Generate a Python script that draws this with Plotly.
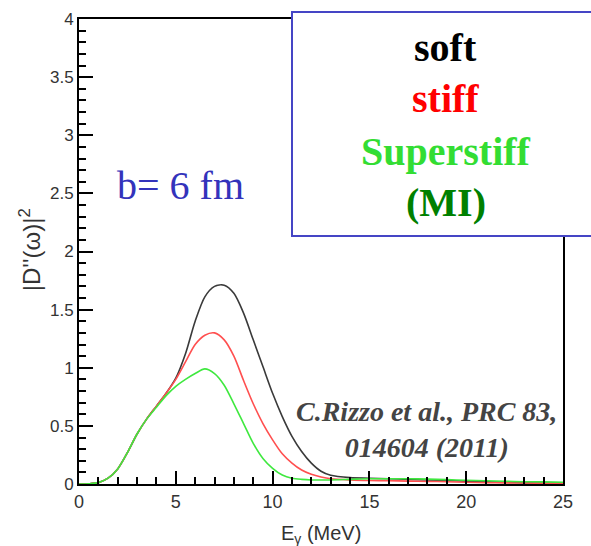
import plotly.graph_objects as go

# ---- data ----
energy = [0, 0.5, 1, 1.5, 2, 2.5, 3, 3.5, 4, 4.5, 5, 5.5, 6, 6.5, 7, 7.5, 8, 8.5,
          9, 9.5, 10, 10.5, 11, 11.5, 12, 12.5, 13,
          14, 15, 16, 17, 18, 19, 20, 21, 22, 23, 24, 25]

soft = [0, 0.002, 0.012, 0.05, 0.13, 0.27, 0.43, 0.56, 0.67, 0.78, 0.91, 1.12, 1.40, 1.61,
        1.70, 1.71, 1.64, 1.47, 1.24, 1.01, 0.78, 0.58, 0.41, 0.28, 0.18, 0.11, 0.075,
        0.055, 0.05, 0.045, 0.04, 0.035, 0.03, 0.025, 0.02, 0.015, 0.01, 0.008, 0.005]

stiff = [0, 0.002, 0.012, 0.05, 0.13, 0.27, 0.43, 0.56, 0.67, 0.78, 0.90, 1.05, 1.20, 1.28,
         1.30, 1.24, 1.10, 0.89, 0.69, 0.52, 0.38, 0.26, 0.18, 0.12, 0.083, 0.06, 0.045,
         0.035, 0.03, 0.028, 0.025, 0.022, 0.02, 0.015, 0.012, 0.01, 0.008, 0.006, 0.005]

superstiff = [0, 0.002, 0.012, 0.05, 0.13, 0.27, 0.43, 0.56, 0.66, 0.76, 0.84, 0.90, 0.95, 0.99,
              0.95, 0.85, 0.69, 0.52, 0.35, 0.22, 0.135, 0.077, 0.05, 0.04, 0.035, 0.035, 0.035,
              0.04, 0.045, 0.045, 0.045, 0.042, 0.038, 0.032, 0.028, 0.024, 0.02, 0.018, 0.015]

x_major_step = 5
y_major_step = 0.5

series = [
    ("soft", soft, "#3a3a3a"),
    ("stiff", stiff, "#ff4f4f"),
    ("Superstiff", superstiff, "#3fe83f"),
]

fig = go.Figure()
for name, vals, col in series:
    fig.add_trace(go.Scatter(x=energy, y=vals, mode="lines", name=name,
                             line=dict(color=col, width=1.6, shape="spline", smoothing=0.8)))

fig.update_xaxes(range=[0, 25], dtick=x_major_step, tick0=0,
                 showline=True, linewidth=2, linecolor="black", mirror=True,
                 ticks="inside", ticklen=13, tickwidth=2, tickcolor="black",
                 showgrid=False, zeroline=False,
                 minor=dict(ticks="inside", ticklen=7, dtick=1, tickwidth=2,
                            tickcolor="black"),
                 tickfont=dict(family="Liberation Sans", size=18, color="#333"))
fig.update_yaxes(range=[0, 4], dtick=y_major_step, tick0=0,
                 showline=True, linewidth=2, linecolor="black", mirror=True,
                 ticks="inside", ticklen=14, tickwidth=2, tickcolor="black",
                 showgrid=False, zeroline=False,
                 minor=dict(ticks="inside", ticklen=7, dtick=0.1, tickwidth=2,
                            tickcolor="black"),
                 tickfont=dict(family="Liberation Sans", size=17, color="#333"))

# framed legend box (drawn as an annotation box, extends past the right edge)
fig.add_annotation(x=0.438, y=1.017, xref="paper", yref="paper", text="&nbsp;",
                   showarrow=False, xanchor="left", yanchor="top",
                   width=330, height=222, bgcolor="white",
                   bordercolor="#4545c5", borderwidth=2, borderpad=0,
                   font=dict(size=10))

serif = "Liberation Serif"
box_lines = [
    ("<b>soft</b>", "#000000", 0.938),
    ("<b>stiff</b>", "#ff0000", 0.828),
    ("<b>Superstiff</b>", "#33dd33", 0.716),
    ("<b>(MI)</b>", "#008000", 0.606),
]
for txt, col, yy in box_lines:
    fig.add_annotation(x=0.758, y=yy, xref="paper", yref="paper", text=txt,
                       showarrow=False, xanchor="center", yanchor="middle",
                       font=dict(family=serif, size=40, color=col))

fig.add_annotation(x=0.209, y=0.641, xref="paper", yref="paper", text="b= 6 fm",
                   showarrow=False, xanchor="center", yanchor="middle",
                   font=dict(family=serif, size=40, color="#3333bb"))

fig.add_annotation(x=0.719, y=0.118, xref="paper", yref="paper",
                   text="<b><i>C.Rizzo et al., PRC 83,<br>014604 (2011)</i></b>",
                   showarrow=False, xanchor="center", yanchor="middle", align="center",
                   font=dict(family=serif, size=28, color="#444444"))

fig.add_annotation(x=0.5, y=-0.078, xref="paper", yref="paper",
                   text="E<sub>γ</sub> (MeV)", showarrow=False,
                   xanchor="center", yanchor="top",
                   font=dict(family="Liberation Sans", size=20, color="#333"))

fig.add_annotation(x=-0.101, y=0.503, xref="paper", yref="paper",
                   text="|D''(ω)|<sup>2</sup>", showarrow=False, textangle=-90,
                   xanchor="center", yanchor="middle",
                   font=dict(family="Liberation Sans", size=24, color="#333"))

fig.update_layout(width=591, height=546, margin=dict(l=79, r=28, t=19, b=62),
                  paper_bgcolor="white", plot_bgcolor="white", showlegend=False,
                  template="none")

fig.write_html("out.html")
